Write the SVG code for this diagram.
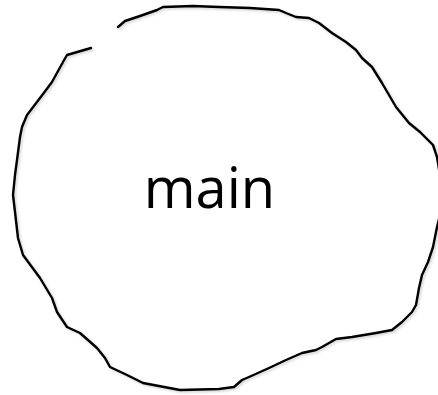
<svg xmlns="http://www.w3.org/2000/svg" width="438" height="395" viewBox="0 0 438 395">
  <defs>
    <filter id="sh" x="-10%" y="-10%" width="120%" height="120%">
      <feDropShadow dx="1.5" dy="1.5" stdDeviation="1.2" flood-color="#000" flood-opacity="0.18"/>
    </filter>
  </defs>
  <style>
    .outline { fill: none; stroke: #000; stroke-width: 2.4; stroke-linejoin: round; stroke-linecap: round; }
    .label { font-family: "Open Sans", "Noto Sans", "Liberation Sans", sans-serif; font-size: 56px; fill: #000; }
  </style>
  <rect width="438" height="395" fill="#fff"/>
  <g id="main">
    <polyline class="outline" filter="url(#sh)" points="118,27 125,21 140,16 157,10 163,7 193,6 219,7 250,8 279,10 286,13 296,17 309,18 319,23 332,33 346,42 356,50 362,58 372,67 382,83 396,107 409,123 420,132 433,145 437,157 440,175 441,195 440,215 437,227 433,247 428,262 422,275 419,288 416,305 412,312 402,322 392,330 376,333 352,337 336,339 322,347 316,350 302,353 286,360 269,368 249,377 242,380 234,387 219,389 180,390 143,383 127,375 110,367 105,358 97,348 80,333 67,327 57,312 52,298 40,278 23,255 18,238 15,212 13,195 15,175 17,160 20,137 22,127 27,115 40,98 52,82 63,62 67,55 91,48"/>
    <text class="label" x="209.5" y="208" text-anchor="middle">main</text>
  </g>
</svg>
